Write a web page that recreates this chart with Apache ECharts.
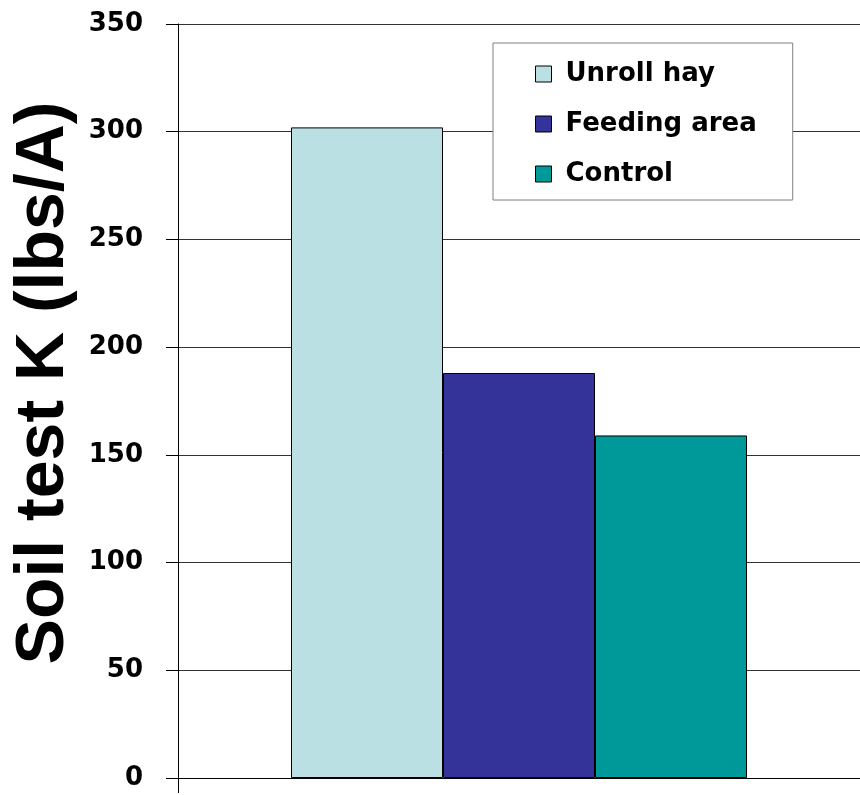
<!DOCTYPE html>
<html>
<head>
<meta charset="utf-8">
<script src="https://cdn.jsdelivr.net/npm/echarts@6/dist/echarts.min.js"></script>
<style>
  html, body { margin: 0; padding: 0; background: #fff; }
  #chart { width: 860px; height: 795px; }
</style>
</head>
<body>
<div id="chart"></div>
<script>
// Soil test potassium by hay-feeding treatment
const categories = [''];
const seriesNames = ['Unroll hay', 'Feeding area', 'Control'];
const unrollHay = [302];
const feedingArea = [188];
const control = [159];
const seriesColors = ['#BBE0E3', '#333399', '#009999'];
const yTicks = { min: 0, max: 350, interval: 50 };

const values = [unrollHay, feedingArea, control];

const chart = echarts.init(document.getElementById('chart'), null, { renderer: 'canvas' });

chart.setOption({
  animation: false,
  backgroundColor: '#ffffff',
  grid: {
    left: 178, right: 0, top: 24, bottom: 17,
    containLabel: false,
    outerBoundsMode: 'none'
  },
  legend: {
    orient: 'vertical',
    left: 493,
    top: 43,
    padding: [16, 36, 11, 42],
    itemGap: 20,
    itemWidth: 16,
    itemHeight: 16,
    borderColor: '#808080',
    borderWidth: 1,
    backgroundColor: '#ffffff',
    icon: 'rect',
    textStyle: {
      fontFamily: 'DejaVu Sans',
      fontWeight: 'bold',
      fontSize: 26,
      lineHeight: 30,
      color: '#000',
      padding: [0, 0, 0, 9]
    },
    itemStyle: { borderColor: '#000', borderWidth: 1 },
    data: seriesNames
  },
  xAxis: {
    type: 'category',
    data: categories,
    boundaryGap: true,
    axisLine: { show: true, lineStyle: { color: '#000', width: 1 } },
    axisTick: { show: true, length: 15, lineStyle: { color: '#000' } },
    axisLabel: { show: false },
    splitLine: { show: false }
  },
  yAxis: {
    type: 'value',
    min: yTicks.min,
    max: yTicks.max,
    interval: yTicks.interval,
    name: 'Soil test K (lbs/A)',
    nameLocation: 'middle',
    nameRotate: 90,
    nameGap: 92,
    nameTextStyle: {
      fontFamily: 'Liberation Sans',
      fontWeight: 'bold',
      fontSize: 68,
      color: '#000',
      padding: [0, 0, 0, 36]
    },
    axisLine: { show: true, lineStyle: { color: '#000', width: 1 } },
    axisTick: { show: true, length: 12, lineStyle: { color: '#000' } },
    axisLabel: {
      margin: 35,
      fontFamily: 'DejaVu Sans',
      fontWeight: 'bold',
      fontSize: 26,
      color: '#000'
    },
    splitLine: { show: true, lineStyle: { color: '#333', width: 1 } }
  },
  series: seriesNames.map((name, i) => ({
    name: name,
    type: 'bar',
    data: values[i],
    barWidth: 152,
    barGap: '0%',
    itemStyle: { color: seriesColors[i], borderColor: '#000', borderWidth: 1 }
  }))
});
</script>
</body>
</html>
